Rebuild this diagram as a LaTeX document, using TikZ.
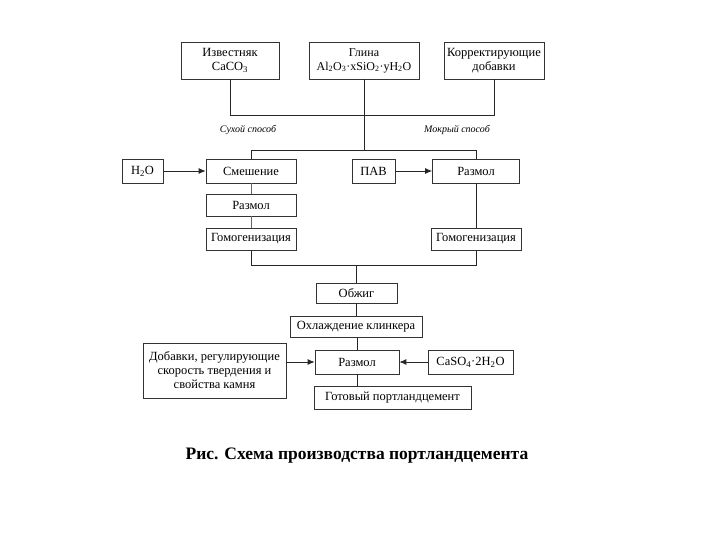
\documentclass[tikz,border=0pt]{standalone}
\usepackage{fontspec}
\setmainfont{Liberation Serif}
\usetikzlibrary{arrows.meta}
\tikzset{
  box/.style={draw=black!80, line width=0.7pt, fill=white, inner sep=0pt, align=center, font=\fontsize{12.5}{14}\selectfont},
  conn/.style={line width=0.8pt, draw=black!85},
  arr/.style={conn, -{Latex[length=7pt,width=6pt]}},
  lbl/.style={font=\fontsize{10}{11}\selectfont\itshape}
}
\begin{document}
\begin{tikzpicture}[x=1pt,y=-1pt]
\useasboundingbox (0,0) rectangle (720,540);
% top row
\node[box, minimum width=98pt, minimum height=37pt] (izv) at (230,60.5) {Известняк\\CaCO\textsubscript{3}};
\node[box, minimum width=110pt, minimum height=37pt, font=\fontsize{12}{14}\selectfont] (glina) at (364,60.5) {Глина\\Al\textsubscript{2}O\textsubscript{3}·xSiO\textsubscript{2}·yH\textsubscript{2}O};
\node[box, minimum width=100pt, minimum height=37pt] (korr) at (494,60.5) {Корректирующие\\добавки};
% labels
\node[lbl] (dry) at (248,130) {Сухой способ};
\node[lbl] (wet) at (457,130) {Мокрый способ};
% row 2
\node[box, minimum width=41pt, minimum height=24pt] (h2o) at (142.5,171) {H\textsubscript{2}O};
\node[box, minimum width=90pt, minimum height=24pt] (smesh) at (251,171) {Смешение};
\node[box, minimum width=43pt, minimum height=24pt] (pav) at (373.5,171) {ПАВ};
\node[box, minimum width=87pt, minimum height=24pt] (razR) at (476,171) {Размол};
% left column
\node[box, minimum width=90pt, minimum height=22pt] (razL) at (251,205) {Размол};
\node[box, minimum width=90pt, minimum height=22pt] (gomL) at (251,239) {Гомогенизация};
\node[box, minimum width=90pt, minimum height=22pt] (gomR) at (476,239) {Гомогенизация};
% lower part
\node[box, minimum width=81pt, minimum height=20pt] (obzh) at (356.5,293) {Обжиг};
\node[box, minimum width=132pt, minimum height=21pt] (ohl) at (356,326.5) {Охлаждение клинкера};
\node[box, minimum width=84pt, minimum height=24pt] (raz3) at (357,362) {Размол};
\node[box, minimum width=85pt, minimum height=24pt] (caso) at (470.5,362) {CaSO\textsubscript{4}·2H\textsubscript{2}O};
\node[box, minimum width=143pt, minimum height=55pt] (dob) at (214.5,370.5) {Добавки, регулирующие\\скорость твердения и\\свойства камня};
\node[box, minimum width=157pt, minimum height=23pt] (got) at (392.5,397.5) {Готовый портландцемент};
% caption
\node[font=\fontsize{17.5}{20}\selectfont\bfseries] (cap) at (357,456) {Рис. Схема производства портландцемента};
% coordinates
\coordinate (t1) at (230,115);
\coordinate (t2) at (494,115);
\coordinate (m1) at (251,150);
\coordinate (m2) at (476,150);
\coordinate (b1) at (251,265);
\coordinate (b2) at (476,265);
% connectors top
\draw[conn] (izv.south) -- (t1) -- (t2) -- (korr.south);
\draw[conn] (glina.south) -- (glina.south |- m1);
\draw[conn] (smesh.north) -- (m1) -- (m2) -- (razR.north);
% arrows row 2
\draw[arr] (h2o.east) -- (smesh.west);
\draw[arr] (pav.east) -- (razR.west);
% columns
\draw[conn, draw=black!60, line width=0.6pt] (smesh.south) -- (razL.north);
\draw[conn, draw=black!60, line width=0.6pt] (razL.south) -- (gomL.north);
\draw[conn] (razR.south) -- (gomR.north);
\draw[conn] (gomL.south) -- (b1) -- (b2) -- (gomR.south);
\draw[conn] (obzh.north |- b1) -- (obzh.north);
\draw[conn] (obzh.south) -- (obzh.south |- ohl.north);
\draw[conn] (raz3.north |- ohl.south) -- (raz3.north);
\draw[conn] (raz3.south) -- (raz3.south |- got.north);
\draw[arr] (dob.east |- raz3.west) -- (raz3.west);
\draw[arr] (caso.west) -- (raz3.east);
\end{tikzpicture}
\end{document}
